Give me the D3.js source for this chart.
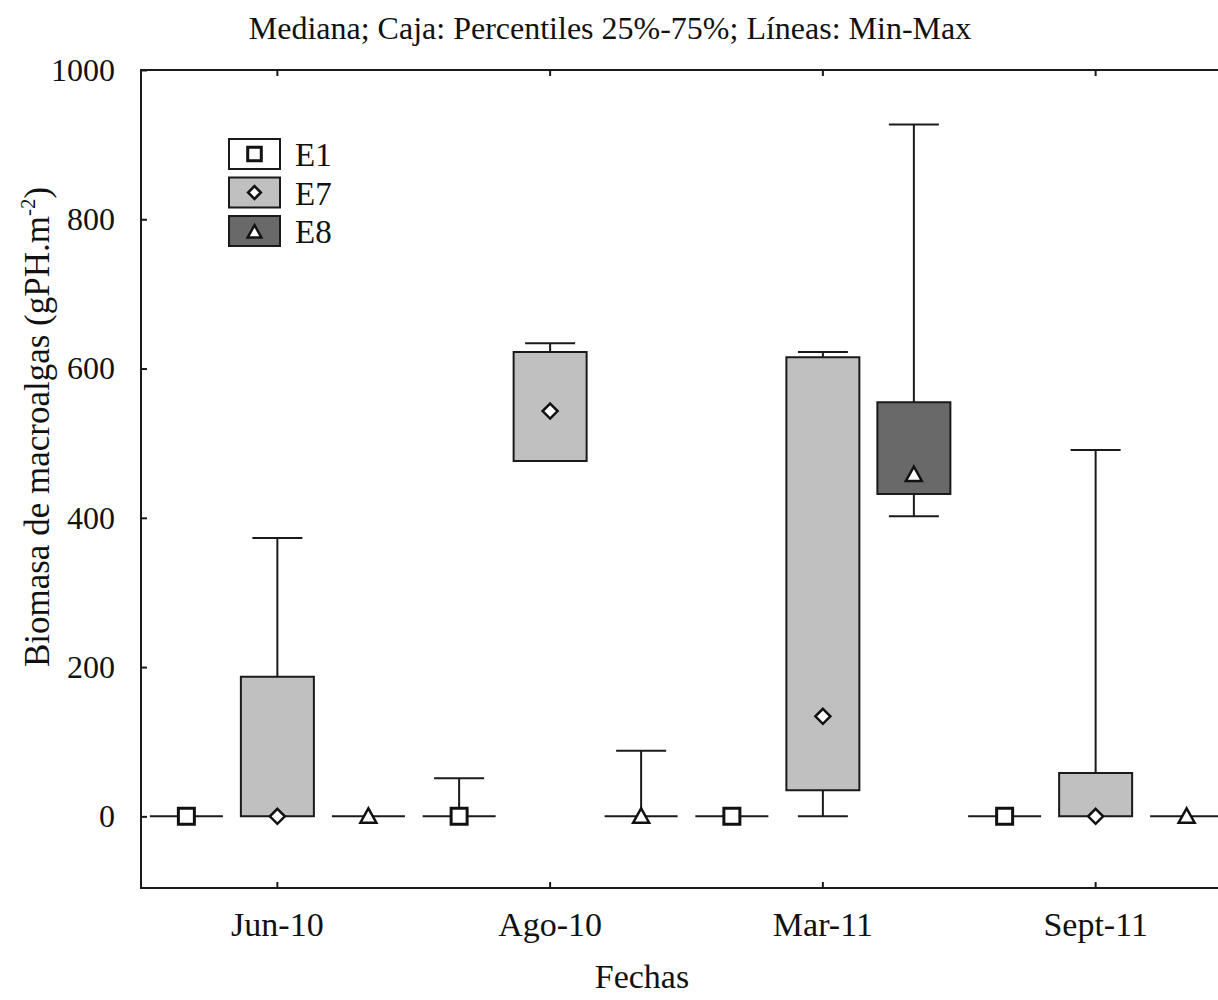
<!DOCTYPE html>
<html>
<head>
<meta charset="utf-8">
<script src="https://cdn.jsdelivr.net/npm/d3@7"></script>
<style>
  body { margin: 0; background: #fff; }
  svg { display: block; }
  text { font-family: "Liberation Serif", "Times New Roman", serif; fill: #111; }
</style>
</head>
<body>
<div id="chart"></div>
<script>
// box plot: median, box q1-q3, whiskers min-max

var width = 1218;
var height = 1000;

var fechas = ["Jun-10", "Ago-10", "Mar-11", "Sept-11"];
var estaciones = ["E1", "E7", "E8"];
var colores = ["#ffffff", "#c0c0c0", "#696969"];
var yTicks = [0, 200, 400, 600, 800, 1000];

// one array per statistic, rows = fechas, columns = E1, E7, E8
var minimos  = [[0, 0, 0], [0, 476, 0], [0, 0, 402], [0, 0, 0]];
var q1       = [[0, 0, 0], [0, 476, 0], [0, 35, 432], [0, 0, 0]];
var medianas = [[0, 0, 0], [0, 543, 0], [0, 134, 458], [0, 0, 0]];
var q3       = [[0, 187, 0], [0, 622, 0], [0, 615, 555], [0, 58, 0]];
var maximos  = [[0, 373, 0], [51, 634, 88], [0, 622, 927], [0, 491, 0]];

var margin = { left: 141, top: 70, right: -14, bottom: 112 };
var plotW = width - margin.left - margin.right;
var plotH = height - margin.top - margin.bottom;

var svg = d3.select("#chart").append("svg")
    .attr("width", width)
    .attr("height", height);

var g = svg.append("g")
    .attr("transform", "translate(" + margin.left + "," + margin.top + ")");

var x = d3.scaleBand().domain(fechas).range([0, plotW]);
var xs = d3.scaleBand().domain(estaciones).range([-136.5, 136.5]).paddingInner(0.25).paddingOuter(0.125);
var y = d3.scaleLinear().domain([-96, 1000]).range([plotH, 0]);

var boxW = 73;
var capW = 50;

// frame
g.append("rect")
    .attr("x", 0).attr("y", 0)
    .attr("width", plotW).attr("height", plotH)
    .attr("fill", "none").attr("stroke", "#1a1a1a").attr("stroke-width", 2);

// axes
var yAxis = g.append("g").call(d3.axisLeft(y).tickValues(yTicks).tickFormat(d3.format("d"))
    .tickSizeInner(-6).tickSizeOuter(0).tickPadding(26));
var xAxis = g.append("g").attr("transform", "translate(0," + plotH + ")")
    .call(d3.axisBottom(x).tickSizeInner(-6).tickSizeOuter(0).tickPadding(24));
g.append("g").call(d3.axisTop(x).tickSizeInner(-6).tickSizeOuter(0).tickFormat(""));
g.selectAll(".domain").remove();
g.selectAll(".tick line").attr("stroke", "#1a1a1a").attr("stroke-width", 2);
yAxis.selectAll("text").style("font-size", "32px").attr("fill", "#111");
xAxis.selectAll("text").style("font-size", "34px").attr("fill", "#111");

// build rows
var filas = [];
fechas.forEach(function(f, i) {
    estaciones.forEach(function(e, j) {
        filas.push({
            fecha: f, est: e, color: colores[j],
            min: minimos[i][j], q1: q1[i][j], med: medianas[i][j],
            q3: q3[i][j], max: maximos[i][j]
        });
    });
});

function cx(d) { return x(d.fecha) + x.bandwidth() / 2 + xs(d.est) + xs.bandwidth() / 2; }

var grp = g.selectAll(".caja").data(filas).enter().append("g").attr("class", "caja");

// whiskers
grp.append("line")
    .attr("x1", cx).attr("x2", cx)
    .attr("y1", function(d) { return y(d.q3); })
    .attr("y2", function(d) { return y(d.max); })
    .attr("stroke", "#1a1a1a").attr("stroke-width", 2);
grp.append("line")
    .attr("x1", cx).attr("x2", cx)
    .attr("y1", function(d) { return y(d.q1); })
    .attr("y2", function(d) { return y(d.min); })
    .attr("stroke", "#1a1a1a").attr("stroke-width", 2);
grp.filter(function(d) { return d.max > d.q3; }).append("line")
    .attr("x1", function(d) { return cx(d) - capW / 2; })
    .attr("x2", function(d) { return cx(d) + capW / 2; })
    .attr("y1", function(d) { return y(d.max); })
    .attr("y2", function(d) { return y(d.max); })
    .attr("stroke", "#1a1a1a").attr("stroke-width", 2);
grp.filter(function(d) { return d.min < d.q1; }).append("line")
    .attr("x1", function(d) { return cx(d) - capW / 2; })
    .attr("x2", function(d) { return cx(d) + capW / 2; })
    .attr("y1", function(d) { return y(d.min); })
    .attr("y2", function(d) { return y(d.min); })
    .attr("stroke", "#1a1a1a").attr("stroke-width", 2);

// boxes (path so a zero-height box still shows as a line)
grp.append("path")
    .attr("d", function(d) {
        var x0 = cx(d) - boxW / 2, y0 = y(d.q3), h = y(d.q1) - y(d.q3);
        return "M" + x0 + "," + y0 + "h" + boxW + "v" + h + "h" + (-boxW) + "Z";
    })
    .attr("fill", function(d) { return d.color; })
    .attr("stroke", "#1a1a1a").attr("stroke-width", 2);

// median markers
function simbolo(est, s) {
    if (est === "E1") return "M" + (-s) + "," + (-s) + "h" + 2 * s + "v" + 2 * s + "h" + (-2 * s) + "Z";
    if (est === "E7") return "M0," + (-s) + "L" + s + ",0L0," + s + "L" + (-s) + ",0Z";
    return "M0," + (-s) + "L" + s + "," + (s * 0.8) + "L" + (-s) + "," + (s * 0.8) + "Z";
}
var tamanos = { E1: 8, E7: 7.5, E8: 8 };
function marcador(sel, est, k) {
    sel.attr("d", simbolo(est, tamanos[est] * k))
        .attr("fill", "#fff").attr("stroke", "#111")
        .attr("stroke-width", est === "E1" ? 3 : 2.5)
        .attr("stroke-linejoin", "miter");
}
grp.append("path")
    .attr("transform", function(d) { return "translate(" + cx(d) + "," + y(d.med) + ")"; })
    .each(function(d) { marcador(d3.select(this), d.est, 1); });

// legend
var leg = svg.append("g").attr("transform", "translate(229,139)");
estaciones.forEach(function(e, i) {
    var row = leg.append("g").attr("transform", "translate(0," + (i * 38.5) + ")");
    row.append("rect").attr("width", 51).attr("height", 30)
        .attr("fill", colores[i]).attr("stroke", "#1a1a1a").attr("stroke-width", 2);
    row.append("path").attr("transform", "translate(25.5," + (e === "E8" ? 16 : 15) + ")")
        .call(function(s) { marcador(s, e, 0.85); });
    row.append("text").attr("x", 66).attr("y", 27).style("font-size", "33px").text(e);
});

// titles
svg.append("text").attr("x", 610).attr("y", 39).attr("text-anchor", "middle")
    .style("font-size", "32px").text("Mediana; Caja: Percentiles 25%-75%; Líneas: Min-Max");
svg.append("text").attr("x", 642).attr("y", 988).attr("text-anchor", "middle")
    .style("font-size", "34px").text("Fechas");
var yt = svg.append("text").attr("transform", "translate(49,427) rotate(-90)")
    .attr("text-anchor", "middle").style("font-size", "35px");
yt.append("tspan").text("Biomasa de macroalgas (gPH.m");
yt.append("tspan").attr("dy", -14).style("font-size", "21px").text("-2");
yt.append("tspan").attr("dy", 14).text(")");
</script>
</body>
</html>
